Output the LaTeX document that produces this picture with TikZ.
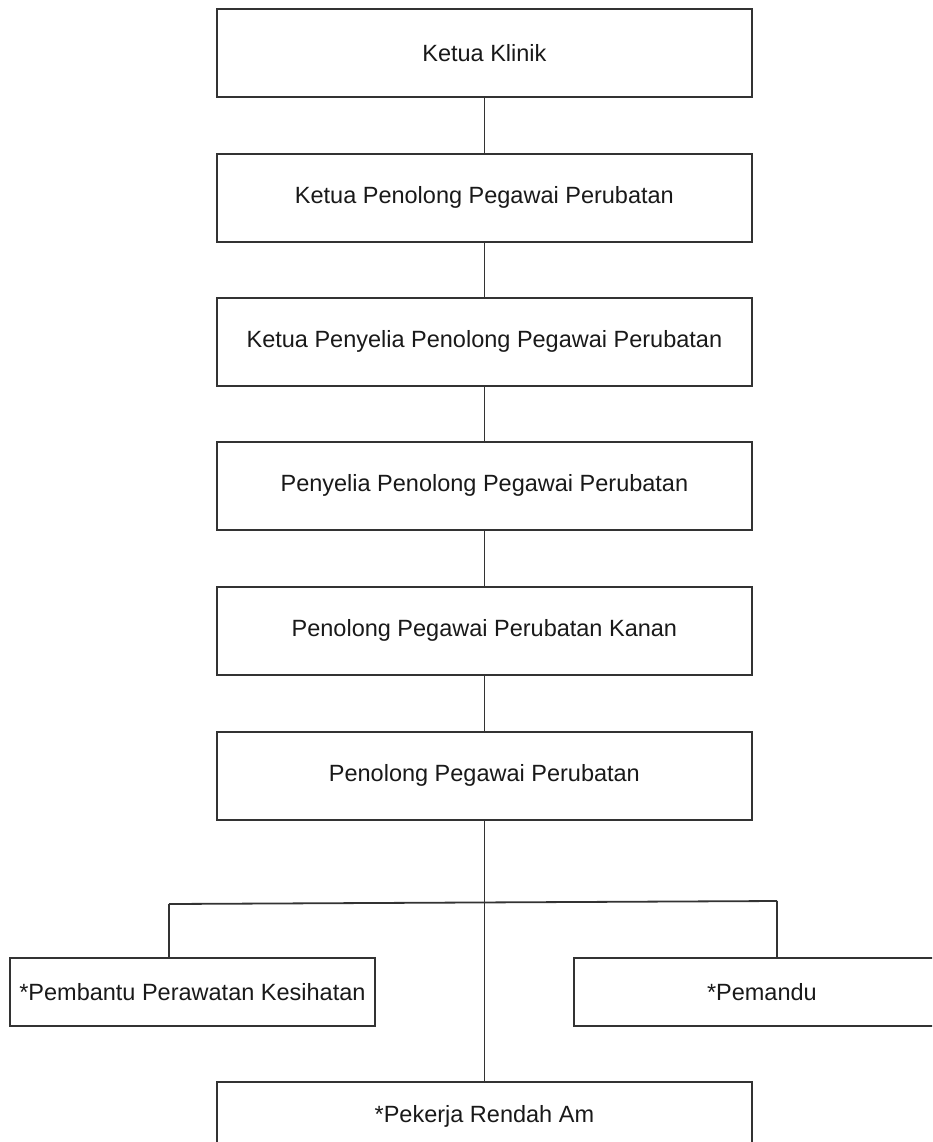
\documentclass[tikz,border=0pt]{standalone}
\usepackage{fontspec}
\setmainfont{Liberation Sans}
\begin{document}
\begin{tikzpicture}[x=1pt,y=-1pt,
  box/.style={draw=black!80, line width=1.8pt, minimum width=535pt,
    minimum height=88pt, anchor=north west, inner sep=0pt,
    text=black!90, font=\fontsize{23.5}{28}\selectfont},
  sidebox/.style={box, minimum width=365pt, minimum height=68pt},
  link/.style={draw=black!80, line width=1.8pt}]
\useasboundingbox (0,0) rectangle (932,1142);
\clip (0,0) rectangle (932,1142);

% chain of posts
\node[box] (k1) at (216,8)   {Ketua Klinik};
\node[box] (k2) at (216,153) {Ketua Penolong Pegawai Perubatan};
\node[box] (k3) at (216,297) {Ketua Penyelia Penolong Pegawai Perubatan};
\node[box] (k4) at (216,441) {Penyelia Penolong Pegawai Perubatan};
\node[box] (k5) at (216,586) {Penolong Pegawai Perubatan Kanan};
\node[box] (k6) at (216,731) {Penolong Pegawai Perubatan};

% support staff
\node[sidebox] (pp) at (9,957)   {*Pembantu Perawatan Kesihatan};
\node[sidebox, minimum width=376pt] (pm) at (573,957) {*Pemandu};
\node[box, minimum height=70pt] (pr) at (216,1081) {*Pekerja Rendah Am};

% vertical chain
\draw[link] (k1) -- (k2);
\draw[link] (k2) -- (k3);
\draw[link] (k3) -- (k4);
\draw[link] (k4) -- (k5);
\draw[link] (k5) -- (k6);
\draw[link] (k6.south) -- (pr.north);

% branch bar
\coordinate (bl) at (169,904);
\coordinate (br) at (777,901);
\draw[link] (bl) -- (br);
\draw[link] (bl) -- (bl |- pp.north);
\draw[link] (br) -- (br |- pm.north);
\end{tikzpicture}
\end{document}
